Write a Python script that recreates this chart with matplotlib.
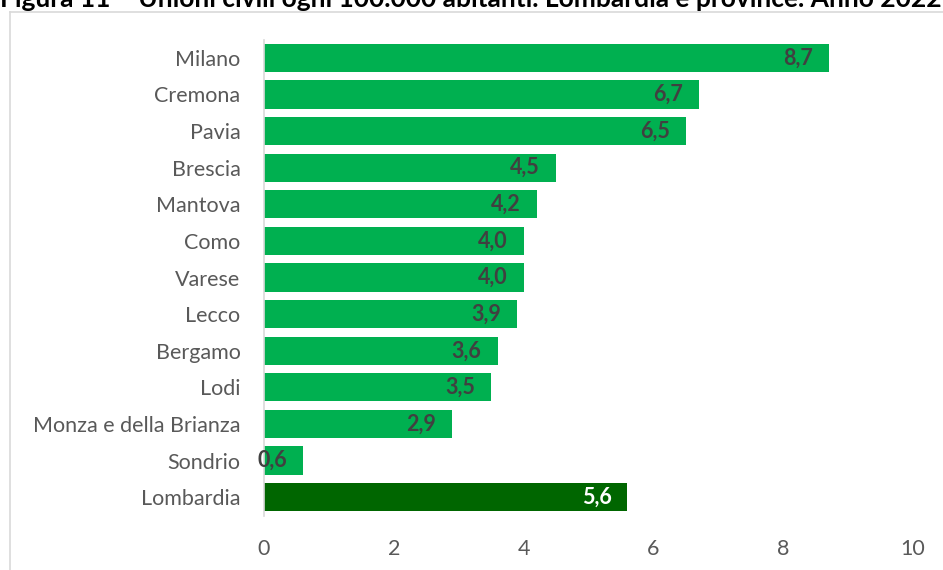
import matplotlib
matplotlib.use("Agg")
import matplotlib.pyplot as plt
from matplotlib.lines import Line2D

categories = ["Milano", "Cremona", "Pavia", "Brescia", "Mantova", "Como", "Varese",
              "Lecco", "Bergamo", "Lodi", "Monza e della Brianza", "Sondrio", "Lombardia"]
values = [8.7, 6.7, 6.5, 4.5, 4.2, 4.0, 4.0, 3.9, 3.6, 3.5, 2.9, 0.6, 5.6]
xticks = [0, 2, 4, 6, 8, 10]
title = "Figura 11 – Unioni civili ogni 100.000 abitanti. Lombardia e province. Anno 2022"

plt.rcParams['font.family'] = ['Lato', 'DejaVu Sans']

fig = plt.figure(figsize=(9.43, 5.70), dpi=100)
W, H = 943, 570
ax = fig.add_axes([264 / W, 1 - 515.5 / H, (913 - 264) / W, (515.5 - 39.5) / H])

colors = ["#00B050"] * (len(categories) - 1) + ["#006600"]
ypos = list(range(len(categories)))
ax.barh(ypos, values, height=0.77, color=colors)
ax.set_ylim(len(categories) - 0.5, -0.5)
ax.set_xlim(0, 10)
ax.set_yticks(ypos)
ax.set_yticklabels(categories, fontsize=15.5, color="#595959")
ax.set_xticks(xticks)
ax.set_xticklabels([str(t) for t in xticks], fontsize=15.5, color="#595959")
ax.tick_params(axis="both", length=0)
ax.tick_params(axis="y", pad=17)
ax.tick_params(axis="x", pad=17)
for s in ["top", "right", "bottom"]:
    ax.spines[s].set_visible(False)
ax.spines["left"].set_color("#D9D9D9")
ax.spines["left"].set_linewidth(1.2)

for i, v in enumerate(values):
    c = "white" if i == len(values) - 1 else "#404040"
    ax.annotate(f"{v:.1f}".replace(".", ","), xy=(v, i), xytext=(-11.5, 0),
                textcoords="offset points", ha="right", va="center",
                fontsize=15.5, fontweight="bold", color=c)

# outer frame (left and top visible)
fig.add_artist(Line2D([10 / W, 10 / W], [0, 1 - 12 / H], color="#D9D9D9", lw=1.2,
                      transform=fig.transFigure))
fig.add_artist(Line2D([10 / W, 1], [1 - 12 / H, 1 - 12 / H], color="#D9D9D9", lw=1.2,
                      transform=fig.transFigure))

fig.text(0.0, 1 - 7 / H, title, ha="left", va="baseline", fontsize=19,
         fontweight="bold", color="black")

fig.savefig("out.png", dpi=100)
